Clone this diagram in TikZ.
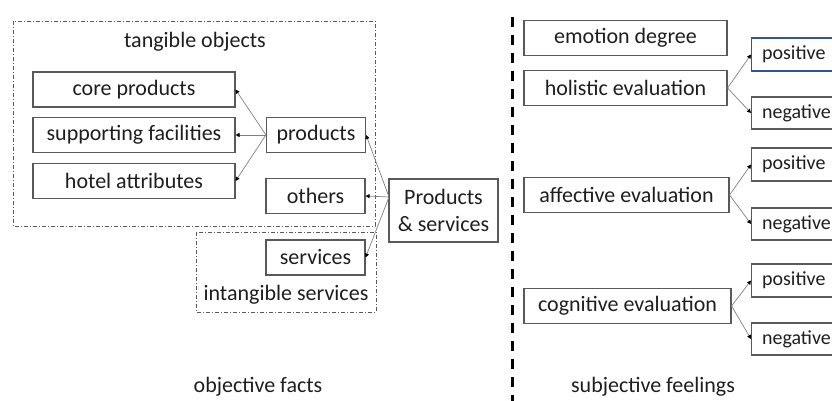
\documentclass[tikz,border=0pt]{standalone}
\usepackage{fontspec}
\setmainfont{Carlito}
\usepackage{tikz}
\usetikzlibrary{arrows.meta}
\definecolor{boxgray}{RGB}{89,89,89}
\definecolor{linegray}{RGB}{128,128,128}
\definecolor{txt}{RGB}{30,30,30}
\definecolor{posblue}{RGB}{47,85,151}

\begin{document}
\begin{tikzpicture}[x=1pt, y=-1pt,
  every node/.style={font=\fontsize{22}{27}\selectfont, text=txt},
  box/.style={draw=boxgray, line width=1.1pt, inner sep=0pt, minimum height=35pt},
  signbox/.style={box, font=\fontsize{20}{24}\selectfont, text width=79pt, align=left, inner xsep=10.5pt, anchor=west},
  group/.style={draw=boxgray, line width=0.8pt, dash pattern=on 4pt off 2pt on 1pt off 2pt},
  arr/.style={draw=linegray, line width=0.7pt, -{Triangle[length=4pt, width=4pt, color=black]}}]
\useasboundingbox (0,0) rectangle (832,401);
% groups
\draw[group] (13,21) rectangle (375,226);
\draw[group] (196,232) rectangle (376,312);
\node (tang) at (195,42) {tangible objects};
\node (intang) at (286,295) {intangible services};
% objective side
\node[box, minimum width=202pt] (core) at (134,89.5) {core products};
\node[box, minimum width=202pt] (supp) at (134,135) {supporting facilities};
\node[box, minimum width=202pt] (hotel) at (134,181) {hotel attributes};
\node[box, minimum width=99pt] (prod) at (316,135) {products};
\node[box, minimum width=99pt] (oth) at (315.5,196) {others};
\node[box, minimum width=99pt] (serv) at (315.5,257.5) {services};
\node[box, minimum width=109pt, minimum height=63pt, align=center] (ps) at (443.5,210.5) {Products\\\& services};
\coordinate (psfork) at (389,197);
\draw[arr] (prod.west) -- (core.east);
\draw[arr] (prod.west) -- (supp.east);
\draw[arr] (prod.west) -- (hotel.east);
\draw[arr] (psfork) -- (prod.east);
\draw[arr] (psfork) -- (oth.east);
\draw[arr] (psfork) -- (serv.east);
% divider
\draw[line width=2.6pt, dash pattern=on 10pt off 8pt] (512.5,17) -- (512.5,401);
% subjective side
\node[box, minimum width=203pt] (emo) at (625.5,38) {emotion degree};
\node[box, minimum width=203pt] (hol) at (625.5,88) {holistic evaluation};
\node[box, minimum width=205pt] (aff) at (626.5,195) {affective evaluation};
\node[box, minimum width=207pt] (cog) at (627.5,306) {cognitive evaluation};
\node[signbox, draw=posblue, minimum height=33pt] (hpos) at (751,54.5) {positive};
\node[signbox, minimum height=32pt] (hneg) at (751,113) {negative};
\node[signbox, minimum height=33pt] (apos) at (751,164.5) {positive};
\node[signbox, minimum height=32pt] (aneg) at (751,224) {negative};
\node[signbox, minimum height=33pt] (cpos) at (751,280.5) {positive};
\node[signbox, minimum height=32pt] (cneg) at (751,339) {negative};
\draw[arr] (hol.east) -- (hpos.west);
\draw[arr] (hol.east) -- (hneg.west);
\draw[arr] (aff.east) -- (apos.west);
\draw[arr] (aff.east) -- (aneg.west);
\draw[arr] (cog.east) -- (cpos.west);
\draw[arr] (cog.east) -- (cneg.west);
% captions
\node (obj) at (258,387) {objective facts};
\node (subj) at (653,387) {subjective feelings};
\end{tikzpicture}
\end{document}
